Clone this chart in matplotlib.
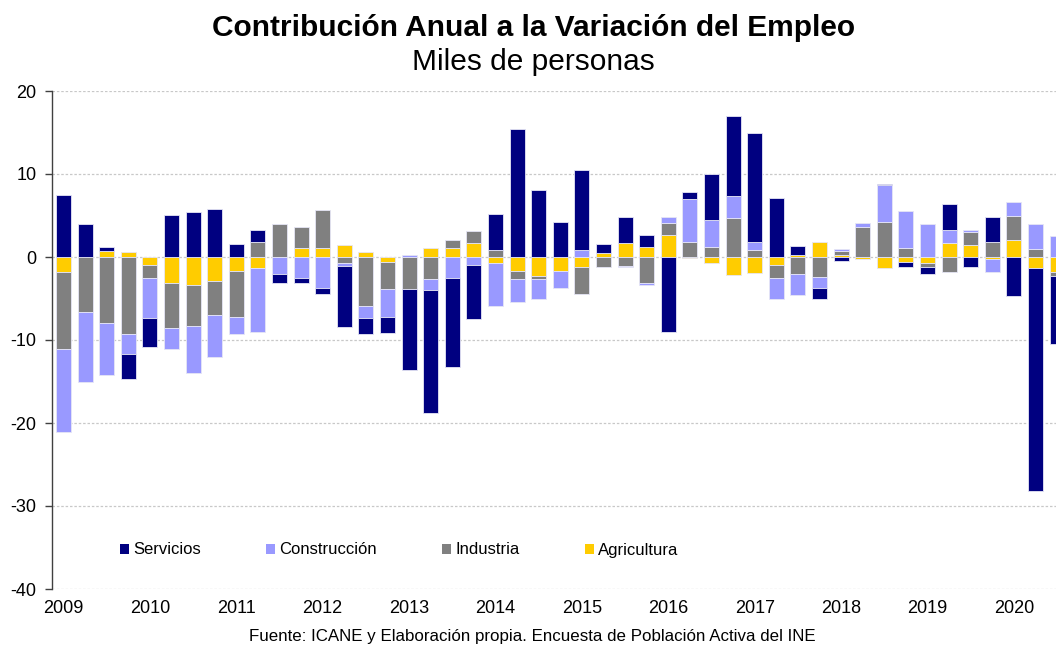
import numpy as np
import matplotlib
matplotlib.use('Agg')
import matplotlib.pyplot as plt
from matplotlib.patches import Patch

plt.rcParams['font.family'] = ['Liberation Sans', 'DejaVu Sans']
plt.rcParams['axes.unicode_minus'] = False

# %% Data (quarterly, 2009 Q1 - 2020 Q3), thousands of people

years = ['2009', '2010', '2011', '2012', '2013', '2014',
         '2015', '2016', '2017', '2018', '2019', '2020']

servicios = [7.5, 4.0, 0.5, -3.0, -3.45, 5.05, 5.4, 5.8, 1.6, 1.45,
             -1.05, -0.55, -0.8, -7.4, -1.9, -1.95, -9.75, -14.85, -10.7, -6.5,
             4.25, 15.4, 8.1, 4.25, 9.7, 1.1, 3.15, 1.5, -9.05, 0.85,
             5.6, 9.55, 13.25, 7.15, 1.05, -1.4, -0.5, -0.1, 0.1, -0.65,
             -0.95, 3.15, -1.15, 3.1, -4.75, -26.9, -8.2]

construccion = [-10.05, -8.45, -6.3, -2.4, -4.85, -2.55, -5.7, -5.1, -2.05, -7.65,
                -2.05, -2.55, -3.7, -0.3, -1.5, -3.3, 0.2, -1.3, -2.5, -1.0,
                -5.2, -2.75, -2.5, -2.0, 0.8, 0.0, -0.1, -0.3, 0.7, 5.2,
                3.2, 2.7, 0.85, -2.5, -2.55, -1.3, 0.2, 0.5, 4.5, 4.4,
                3.95, 1.5, 0.15, -1.55, 1.7, 3.05, 2.5]

industria = [-9.25, -6.6, -7.9, -9.3, -1.5, -5.45, -4.95, -4.1, -5.5, 1.75,
             4.0, 2.55, 4.6, -0.75, -5.85, -3.35, -3.9, -2.7, 0.95, 1.45,
             0.9, -1.0, -0.3, 0.0, -3.35, -1.15, -1.05, -3.1, 1.55, 1.75,
             1.25, 4.7, 0.9, -1.55, -2.05, -2.4, 0.5, 3.6, 4.2, 1.1,
             -0.45, -1.8, 1.55, 1.75, 2.85, 0.95, -0.5]

agricultura = [-1.8, 0.0, 0.75, 0.6, -1.0, -3.1, -3.35, -2.9, -1.7, -1.35,
               -0.05, 1.05, 1.05, 1.45, 0.6, -0.55, 0.0, 1.05, 1.05, 1.65,
               -0.7, -1.7, -2.3, -1.7, -1.15, 0.5, 1.65, 1.2, 2.6, -0.1,
               -0.7, -2.15, -1.95, -0.95, 0.3, 1.75, 0.25, -0.2, -1.35, -0.55,
               -0.7, 1.7, 1.5, -0.25, 2.1, -1.3, -1.8]

#Stacking order from zero outwards (as in the spreadsheet)
series = [('Agricultura', agricultura, '#FFCC00'),
          ('Industria', industria, '#808080'),
          ('Construcción', construccion, '#9999FF'),
          ('Servicios', servicios, '#000080')]

# %% Figure

fig = plt.figure(figsize=(10.56, 6.48), dpi=100)
ax = fig.add_axes([52/1056, 1 - 589/648, 1 - 52/1056, (589 - 91)/648])

x = np.arange(len(servicios))
posBottom = np.zeros(len(x))
negBottom = np.zeros(len(x))
for name, vals, col in series:
    vals = np.array(vals)
    bottom = np.where(vals >= 0, posBottom, negBottom)
    ax.bar(x, vals, width=0.69, bottom=bottom, color=col,
           edgecolor='#e6e6f5', linewidth=0.6, zorder=3)
    posBottom = posBottom + np.clip(vals, 0, None)
    negBottom = negBottom + np.clip(vals, None, 0)

#Axes limits and ticks
ax.set_ylim(-40, 20)
ax.set_yticks(np.arange(-40, 21, 10))
ax.set_xlim(-0.53, 45.95)
ax.set_xticks(np.arange(0, len(years) * 4, 4))
ax.set_xticklabels(years)
ax.tick_params(axis='x', length=0, labelsize=13, pad=8, colors='black')
ax.tick_params(axis='y', length=5, width=1, labelsize=13, pad=6,
               color='#404040', labelcolor='black')

#Gridlines
ax.grid(axis='y', ls=(0, (2, 1.5)), lw=0.9, color='#c8c8c8', zorder=0)
ax.set_axisbelow(True)

#Spines
for sp in ['top', 'right', 'bottom']:
    ax.spines[sp].set_visible(False)
ax.spines['left'].set_color('#404040')
ax.spines['left'].set_linewidth(1.0)

#Legend
handles = [Patch(facecolor=c, edgecolor='none', label=n) for n, v, c in series[::-1]]
ax.legend(handles=handles, loc='center left',
          bbox_to_anchor=(105/1056, 1 - 550/648), bbox_transform=fig.transFigure,
          ncol=4, frameon=False, fontsize=12, handlelength=0.55, handleheight=0.55,
          handletextpad=0.25, columnspacing=3.9)

#Titles and source
fig.text(0.505, 1 - 28/648, 'Contribución Anual a la Variación del Empleo',
         fontsize=21.5, fontweight='bold', ha='center', va='center')
fig.text(0.505, 1 - 62/648, 'Miles de personas',
         fontsize=21.5, ha='center', va='center')
fig.text(532/1056, 1 - 637/648,
         'Fuente: ICANE y Elaboración propia. Encuesta de Población Activa del INE',
         fontsize=12.2, ha='center', va='center')

fig.savefig('out.png', dpi=100, facecolor='white')
